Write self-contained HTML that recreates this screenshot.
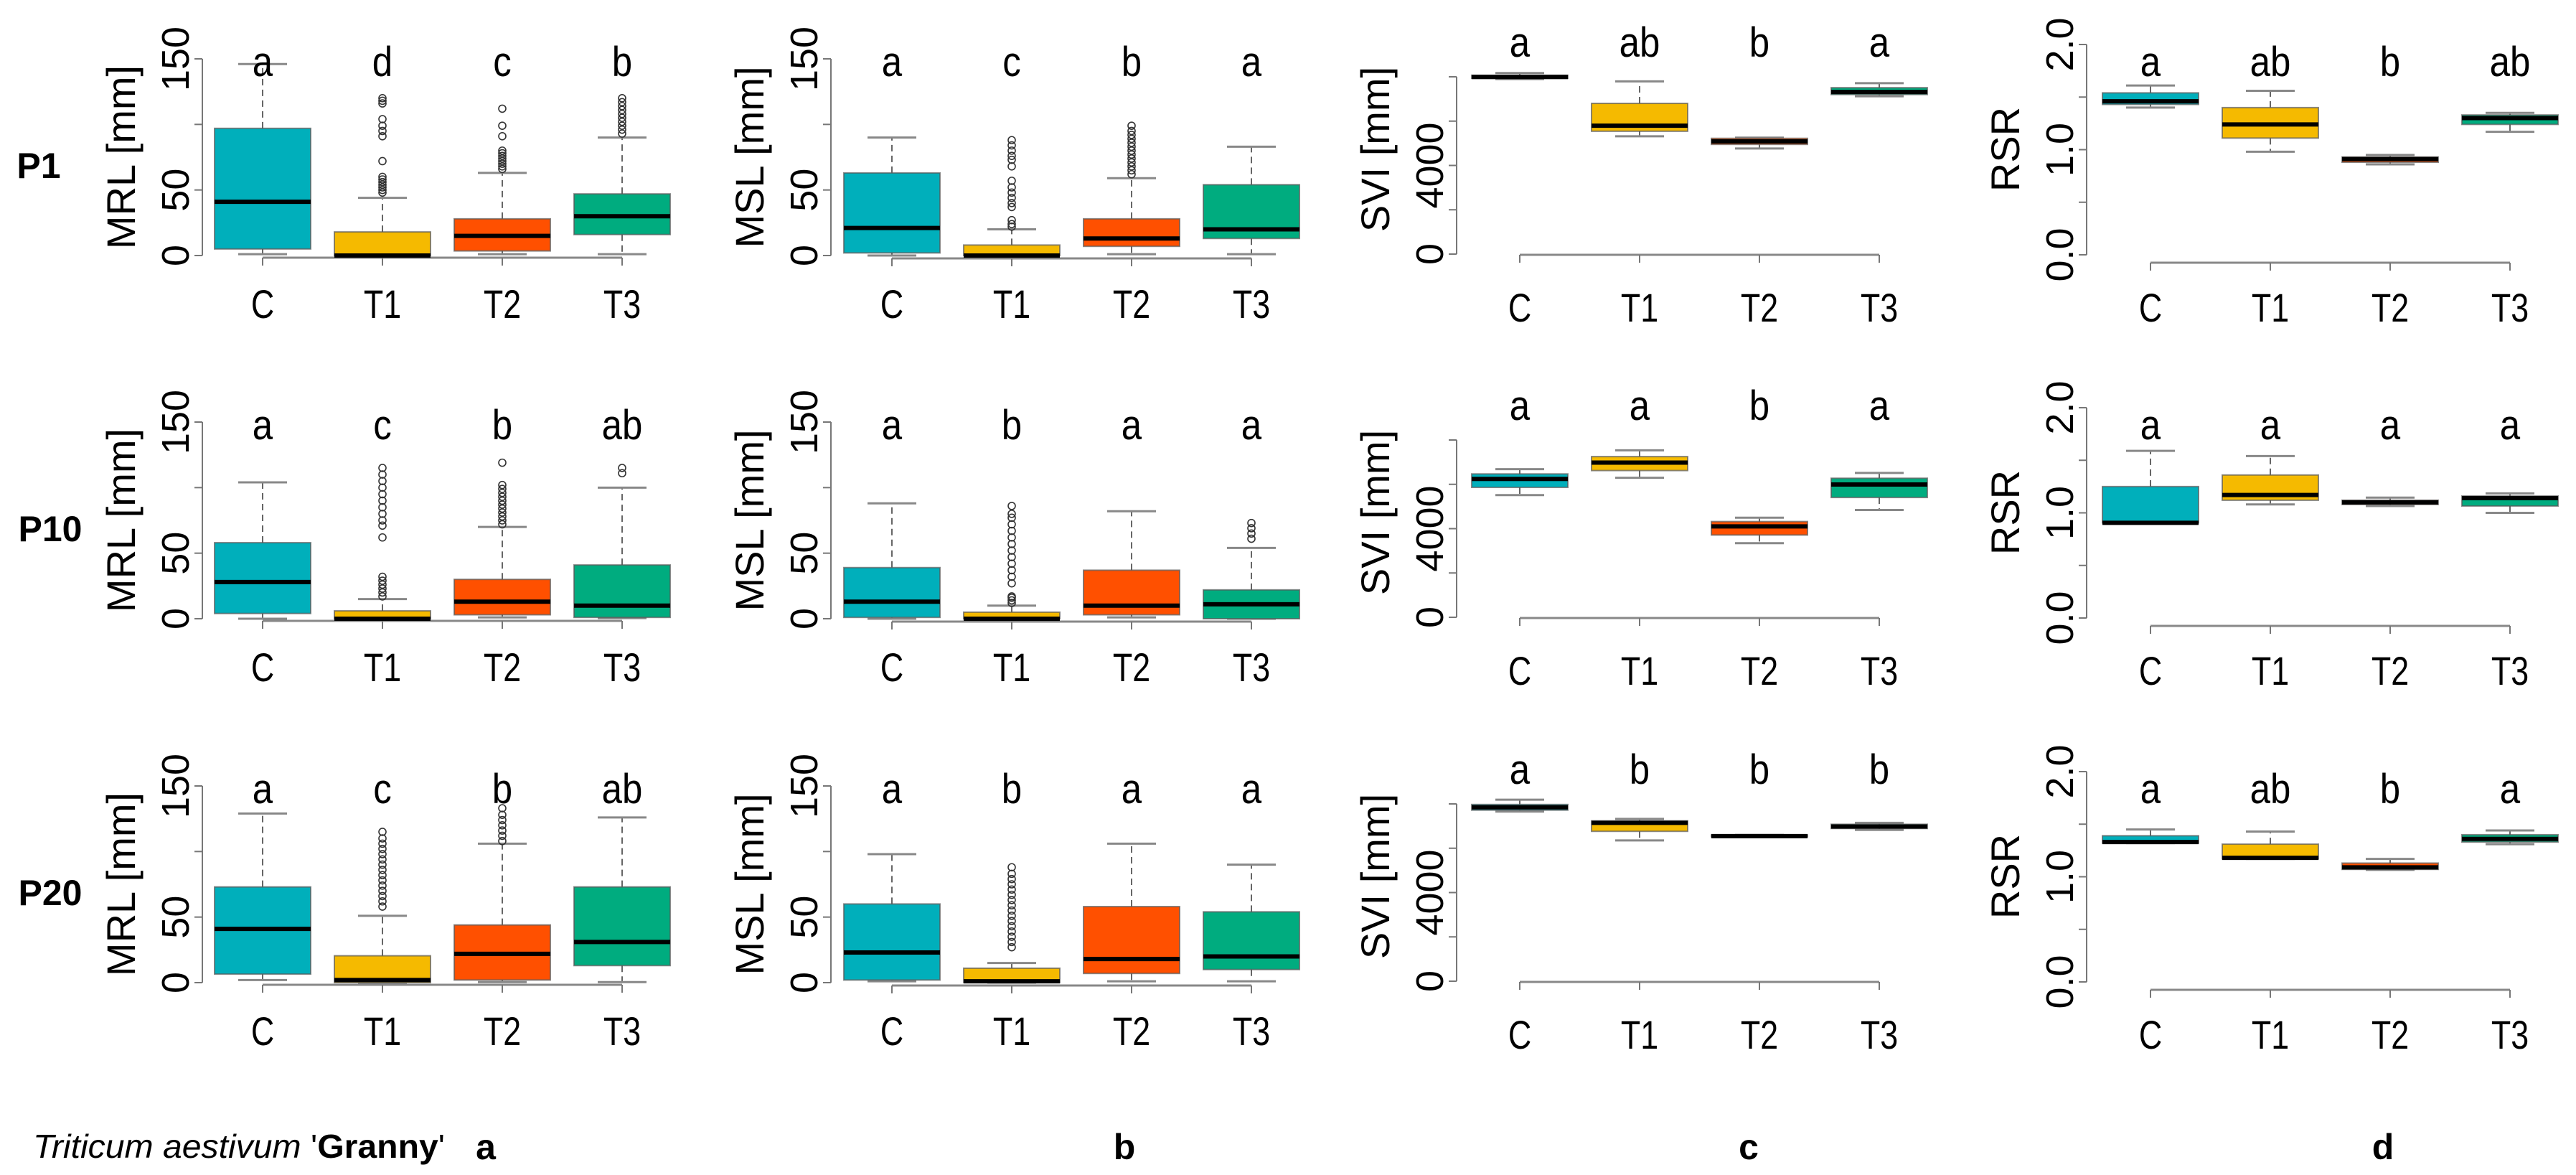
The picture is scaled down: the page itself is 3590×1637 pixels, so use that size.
<!DOCTYPE html>
<html><head><meta charset="utf-8"><style>
html,body{margin:0;padding:0;background:#fff;}
svg{display:block;font-family:"Liberation Sans",Arial,sans-serif;}
</style></head><body>
<svg id="fig" width="3590" height="1637" viewBox="0 0 3590 1637" xmlns="http://www.w3.org/2000/svg"></svg>
<script>
// ---- data: each group = [lowWhisker, q1, median, q3, highWhisker] ----
const groups = ["C","T1","T2","T3"];
const rowNames = ["P1","P10","P20"];
const P1_MRL = [[1,5,41,97,146],[0,0,0,18,44],[1,3.5,15,28,63],[1,16,30,47,90]];
const P1_MSL = [[0,2,21,63,90],[0,0,0,8,20],[1,7,13,28,59],[1,13,20,54,83]];
const P1_SVI = [[7900,7930,7990,8070,8170],[5314,5543,5794,6800,7794],[4766,4949,5086,5223,5257],[7120,7200,7314,7509,7714]];
const P1_RSR = [[1.40,1.43,1.46,1.54,1.61],[0.98,1.11,1.24,1.40,1.56],[0.86,0.88,0.91,0.93,0.95],[1.17,1.24,1.30,1.33,1.35]];
const P10_MRL = [[0,4,28,58,104],[0,0,0,6,15],[1,3,13,30,70],[0.5,1,10,41,100]];
const P10_MSL = [[0,1,13,39,88],[0,0,0,5,10],[1,3,10,37,82],[0,0,11,22,54]];
const P10_SVI = [[5514,5861,6241,6469,6686],[6296,6621,6980,7251,7533],[3343,3712,4103,4320,4494],[4841,5406,5992,6274,6513]];
const P10_RSR = [[0.905,0.905,0.905,1.25,1.59],[1.08,1.12,1.17,1.36,1.54],[1.065,1.08,1.10,1.12,1.145],[1.00,1.065,1.14,1.16,1.185]];
const P20_MRL = [[2,6.5,41,73,129],[0,0,2,20.5,51],[0.4,2,22,44,106],[0.4,13,31,73,126]];
const P20_MSL = [[1,2,23,60,98],[0,0,1,11,15],[1,7,18,58,106],[1,10,20,54,90]];
const P20_SVI = [[7656,7719,7847,7974,8191],[6354,6762,7145,7234,7324],[6510,6520,6545,6597,6600],[6826,6890,6979,7081,7145]];
const P20_RSR = [[1.32,1.32,1.33,1.39,1.45],[1.17,1.17,1.18,1.31,1.43],[1.066,1.07,1.09,1.13,1.17],[1.31,1.33,1.36,1.40,1.44]];
// outliers per group
const P1_MRL_out = [[],[48,50,52,54,56,58,60,72,91,95,99,104,116,118,120],[66,68,70,72,74,76,78,80,91,99,112],[93,96,99,102,105,108,111,114,117,120]];
const P1_MSL_out = [[],[22,24,27,37,40,44,48,52,57,68,73,76,80,84,88],[62,65,68,71,74,77,80,83,86,89,92,95,99],[]];
const P10_MRL_out = [[],[17,20,23,26,29,32,62,71,75,80,85,90,95,100,105,110,115],[72,75,78,81,84,87,90,93,96,99,102,119],[111,115]];
const P10_MSL_out = [[],[12,14,16,17,27,32,37,42,47,52,57,62,67,72,77,80,86],[],[61,65,69,73]];
const P20_MRL_out = [[],[58,62,66,70,74,78,82,86,90,94,98,102,106,110,115],[108,112,116,120,124,128,133],[]];
const P20_MSL_out = [[],[27,31,35,39,43,47,51,55,59,63,67,71,75,79,83,88],[],[]];
// significance letters
const P1_letters = [["a","d","c","b"],["a","c","b","a"],["a","ab","b","a"],["a","ab","b","ab"]];
const P10_letters = [["a","c","b","ab"],["a","b","a","a"],["a","a","b","a"],["a","a","a","a"]];
const P20_letters = [["a","c","b","ab"],["a","b","a","a"],["a","b","b","b"],["a","ab","b","a"]];
// axis tick values / labels
const lenTicks = [0,50,100,150];
const lenTickLabels = ["0","50","","150"];
const sviTicks = [0,2000,4000,6000,8000];
const sviTickLabels = ["0","","4000","",""];
const rsrTicks = [0,0.5,1,1.5,2];
const rsrTickLabels = ["0.0","","1.0","","2.0"];

const rowsBox = [[P1_MRL,P1_MSL,P1_SVI,P1_RSR],[P10_MRL,P10_MSL,P10_SVI,P10_RSR],[P20_MRL,P20_MSL,P20_SVI,P20_RSR]];
const rowsOut = [[P1_MRL_out,P1_MSL_out,null,null],[P10_MRL_out,P10_MSL_out,null,null],[P20_MRL_out,P20_MSL_out,null,null]];
const rowsLet = [P1_letters,P10_letters,P20_letters];

const colors = ["#00AFBB","#F5BA00","#FF5000","#00AC7F"];
const rowOff = [0,506,1013];
const cols = [
 {axisX:282,cx0:366,yTop:82,yBot:356,max:150,ticks:lenTicks,labels:lenTickLabels,title:"MRL [mm]",titleY:219,letY:106,xAxisY:359,xLabY:443,name:"mrl"},
 {axisX:1158,cx0:1243,yTop:82,yBot:356,max:150,ticks:lenTicks,labels:lenTickLabels,title:"MSL [mm]",titleY:219,letY:106,xAxisY:360,xLabY:443,name:"msl"},
 {axisX:2030,cx0:2118,yTop:107,yBot:354,max:8000,ticks:sviTicks,labels:sviTickLabels,title:"SVI [mm]",titleY:208,letY:79,xAxisY:355,xLabY:448,name:"svi"},
 {axisX:2908,cx0:2997,yTop:62,yBot:355,max:2,ticks:rsrTicks,labels:rsrTickLabels,title:"RSR",titleY:208,letY:106,xAxisY:366,xLabY:448,name:"rsr"}
];
const spacing = 167, boxW = 134;
const svg = document.getElementById('fig');
const NS = "http://www.w3.org/2000/svg";
function mk(tag, attrs, parent){
  const e = document.createElementNS(NS, tag);
  for (const k in attrs) e.setAttribute(k, attrs[k]);
  (parent||svg).appendChild(e);
  return e;
}
function txt(parent, s, attrs){ const t = mk('text', attrs, parent); t.textContent = s; return t; }

rowsBox.forEach((row, r) => {
  const off = rowOff[r];
  const pl = txt(svg, rowNames[r], {x: r===0?54:70, y: 248+off, 'font-size':50, 'font-weight':'bold', 'text-anchor':'middle'});
  
  
  row.forEach((data, c) => {
    const col = cols[c];
    const g = mk('g', {});
    
    
    const y = v => off + col.yBot - (v / col.max) * (col.yBot - col.yTop);
    const x = i => col.cx0 + i * spacing;
    // y axis
    const ya = mk('g', {}, g);
    
    
    mk('line', {x1:col.axisX, x2:col.axisX, y1:y(0), y2:y(col.max), stroke:'#777', 'stroke-width':2}, ya);
    col.ticks.forEach((tv, ti) => {
      mk('line', {x1:col.axisX-11, x2:col.axisX, y1:y(tv), y2:y(tv), stroke:'#777', 'stroke-width':2}, ya);
      if (col.labels[ti]) {
        const tl = txt(ya, col.labels[ti], {'font-size':54, 'text-anchor':'middle', transform:`translate(${col.axisX-19},${y(tv)}) rotate(-90)`});
        
        
      }
    });
    const tt = txt(g, col.title, {'font-size':56, 'text-anchor':'middle', transform:`translate(${col.axisX-94},${col.titleY+off}) rotate(-90)`});
    
    
    // x axis
    const xa = mk('g', {}, g);
    
    
    const xy = col.xAxisY + off;
    mk('line', {x1:x(0), x2:x(3), y1:xy, y2:xy, stroke:'#888', 'stroke-width':3}, xa);
    groups.forEach((gn, i) => {
      mk('line', {x1:x(i), x2:x(i), y1:xy, y2:xy+11, stroke:'#777', 'stroke-width':2}, xa);
      const xl = txt(xa, gn, {'font-size':56, 'text-anchor':'middle', transform:`translate(${x(i)},${col.xLabY+off}) scale(0.8,1)`});
      
      
    });
    // boxes
    data.forEach((s, i) => {
      const bx = mk('g', {}, g);
      
      
      const cx = x(i);
      mk('line', {x1:cx, x2:cx, y1:y(s[3]), y2:y(s[4]), stroke:'#666', 'stroke-width':2, 'stroke-dasharray':'9,6'}, bx);
      mk('line', {x1:cx, x2:cx, y1:y(s[1]), y2:y(s[0]), stroke:'#666', 'stroke-width':2, 'stroke-dasharray':'9,6'}, bx);
      mk('line', {x1:cx-34, x2:cx+34, y1:y(s[4]), y2:y(s[4]), stroke:'#888', 'stroke-width':3}, bx);
      mk('line', {x1:cx-34, x2:cx+34, y1:y(s[0]), y2:y(s[0]), stroke:'#888', 'stroke-width':3}, bx);
      const top = y(s[3]), bot = y(s[1]);
      mk('rect', {x:cx-boxW/2, y:top, width:boxW, height:Math.max(bot-top,1), fill:colors[i], stroke:'#5a5a5a', 'stroke-width':2, 'stroke-opacity':0.7}, bx);
      mk('line', {x1:cx-boxW/2, x2:cx+boxW/2, y1:y(s[2]), y2:y(s[2]), stroke:'#000', 'stroke-width':6}, bx);
      const outs = rowsOut[r][c];
      if (outs) outs[i].forEach(v => {
        const o = mk('circle', {cx:cx, cy:y(v), r:5, fill:'none', stroke:'#333', 'stroke-width':1.6}, bx);
        
        
      });
      const lt = txt(g, rowsLet[r][c][i], {'font-size':58, 'text-anchor':'middle', transform:`translate(${cx},${col.letY+off}) scale(0.88,1)`});
      
      
    });
  });
});
</script>
<script>
(function(){
  const svg = document.getElementById('fig');
  const NS = "http://www.w3.org/2000/svg";
  const cap = document.createElementNS(NS, 'text');
  
  
  cap.setAttribute('x', 46); cap.setAttribute('y', 1613);
  cap.setAttribute('font-size', 46);
  cap.setAttribute('textLength', 574);
  cap.setAttribute('lengthAdjust', 'spacingAndGlyphs');
  const t1 = document.createElementNS(NS, 'tspan'); t1.setAttribute('font-style','italic'); t1.textContent = 'Triticum aestivum ';
  const t2 = document.createElementNS(NS, 'tspan'); t2.textContent = "'";
  const t3 = document.createElementNS(NS, 'tspan'); t3.setAttribute('font-weight','bold'); t3.textContent = 'Granny';
  const t4 = document.createElementNS(NS, 'tspan'); t4.textContent = "'";
  cap.appendChild(t1); cap.appendChild(t2); cap.appendChild(t3); cap.appendChild(t4);
  svg.appendChild(cap);
  const panelLetters = ["a","b","c","d"];
  const panelX = [677,1567,2437,3321];
  panelLetters.forEach((l, i) => {
    const t = document.createElementNS(NS, 'text');
    
    
    t.setAttribute('x', panelX[i]); t.setAttribute('y', 1615);
    t.setAttribute('font-size', 50); t.setAttribute('font-weight', 'bold');
    t.setAttribute('text-anchor', 'middle');
    t.textContent = l;
    svg.appendChild(t);
  });
})();
</script>
</body></html>
